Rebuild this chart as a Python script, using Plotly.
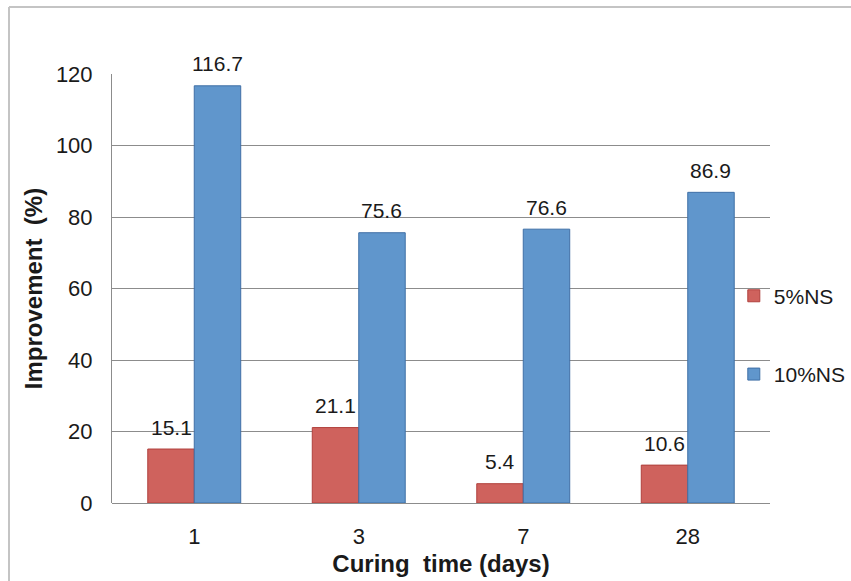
import plotly.graph_objects as go

categories = ["1", "3", "7", "28"]
ns5 = [15.1, 21.1, 5.4, 10.6]
ns10 = [116.7, 75.6, 76.6, 86.9]
series_names = ["5%NS", "10%NS"]
y_ticks = [0, 20, 40, 60, 80, 100, 120]

xpos = list(range(len(categories)))
FONT = "Liberation Sans, Arial, sans-serif"
TXT = "#1a1a1a"
BARGAP = 0.435
half = (1 - BARGAP) / 4  # center offset of each bar within its group

fig = go.Figure()
fig.add_trace(go.Bar(
    x=xpos, y=ns5, name=series_names[0],
    marker=dict(color="#CF625D", line=dict(color="#B0403C", width=1)),
    legendgroup="a",
))
fig.add_trace(go.Bar(
    x=xpos, y=ns10, name=series_names[1],
    marker=dict(color="#6096CC", line=dict(color="#3F6FA6", width=1)),
    legendgroup="b",
))

# data labels placed above each bar through the data scales
for series, sign in ((ns5, -1), (ns10, 1)):
    for xi, v in zip(xpos, series):
        fig.add_annotation(x=xi + sign * half, y=v, xref="x", yref="y",
                           text=f"{v:.1f}", showarrow=False,
                           yanchor="middle", yshift=22,
                           font=dict(family=FONT, size=21, color=TXT))

fig.update_layout(
    width=851, height=581,
    margin=dict(l=112, r=81, t=74, b=78, autoexpand=False),
    paper_bgcolor="white", plot_bgcolor="white",
    barmode="group", bargap=BARGAP, bargroupgap=0,
    font=dict(family=FONT, size=21, color=TXT),
    showlegend=True,
    legend=dict(x=0.945, xanchor="left", y=0.53, yanchor="top",
                tracegroupgap=48, itemwidth=30,
                font=dict(family=FONT, size=21, color=TXT),
                bgcolor="rgba(0,0,0,0)"),
)
fig.update_xaxes(
    range=[-0.5, 3.5], tickmode="array", tickvals=xpos, ticktext=categories,
    showgrid=False, showline=False, zeroline=False, ticks="",
    ticklabelstandoff=18, automargin=False,
    tickfont=dict(family=FONT, size=22, color=TXT),
    title=dict(text="<b>Curing  time (days)</b>", standoff=7,
               font=dict(family=FONT, size=24, color=TXT)),
)
fig.update_yaxes(
    range=[0, 120], tickmode="array", tickvals=y_ticks,
    showgrid=True, gridcolor="#8c8c8c", gridwidth=1,
    showline=True, linecolor="#8c8c8c", linewidth=1,
    zeroline=True, zerolinecolor="#8c8c8c", zerolinewidth=1,
    ticks="", ticklabelstandoff=14, automargin=False,
    tickfont=dict(family=FONT, size=22, color=TXT),
    title=dict(text="<b>Improvement  (%)</b>", standoff=6,
               font=dict(family=FONT, size=24, color=TXT)),
)
# outer frame lines (left and top)
fx = (9 - 112) / 658
fy = 1 + (74 - 7) / 429
fig.add_shape(type="line", xref="paper", yref="paper",
              x0=fx, x1=fx, y0=fy, y1=-0.3,
              line=dict(color="#c4c4c4", width=2))
fig.add_shape(type="line", xref="paper", yref="paper",
              x0=fx, x1=1.2, y0=fy, y1=fy,
              line=dict(color="#c4c4c4", width=2))

fig.write_html("out.html")
